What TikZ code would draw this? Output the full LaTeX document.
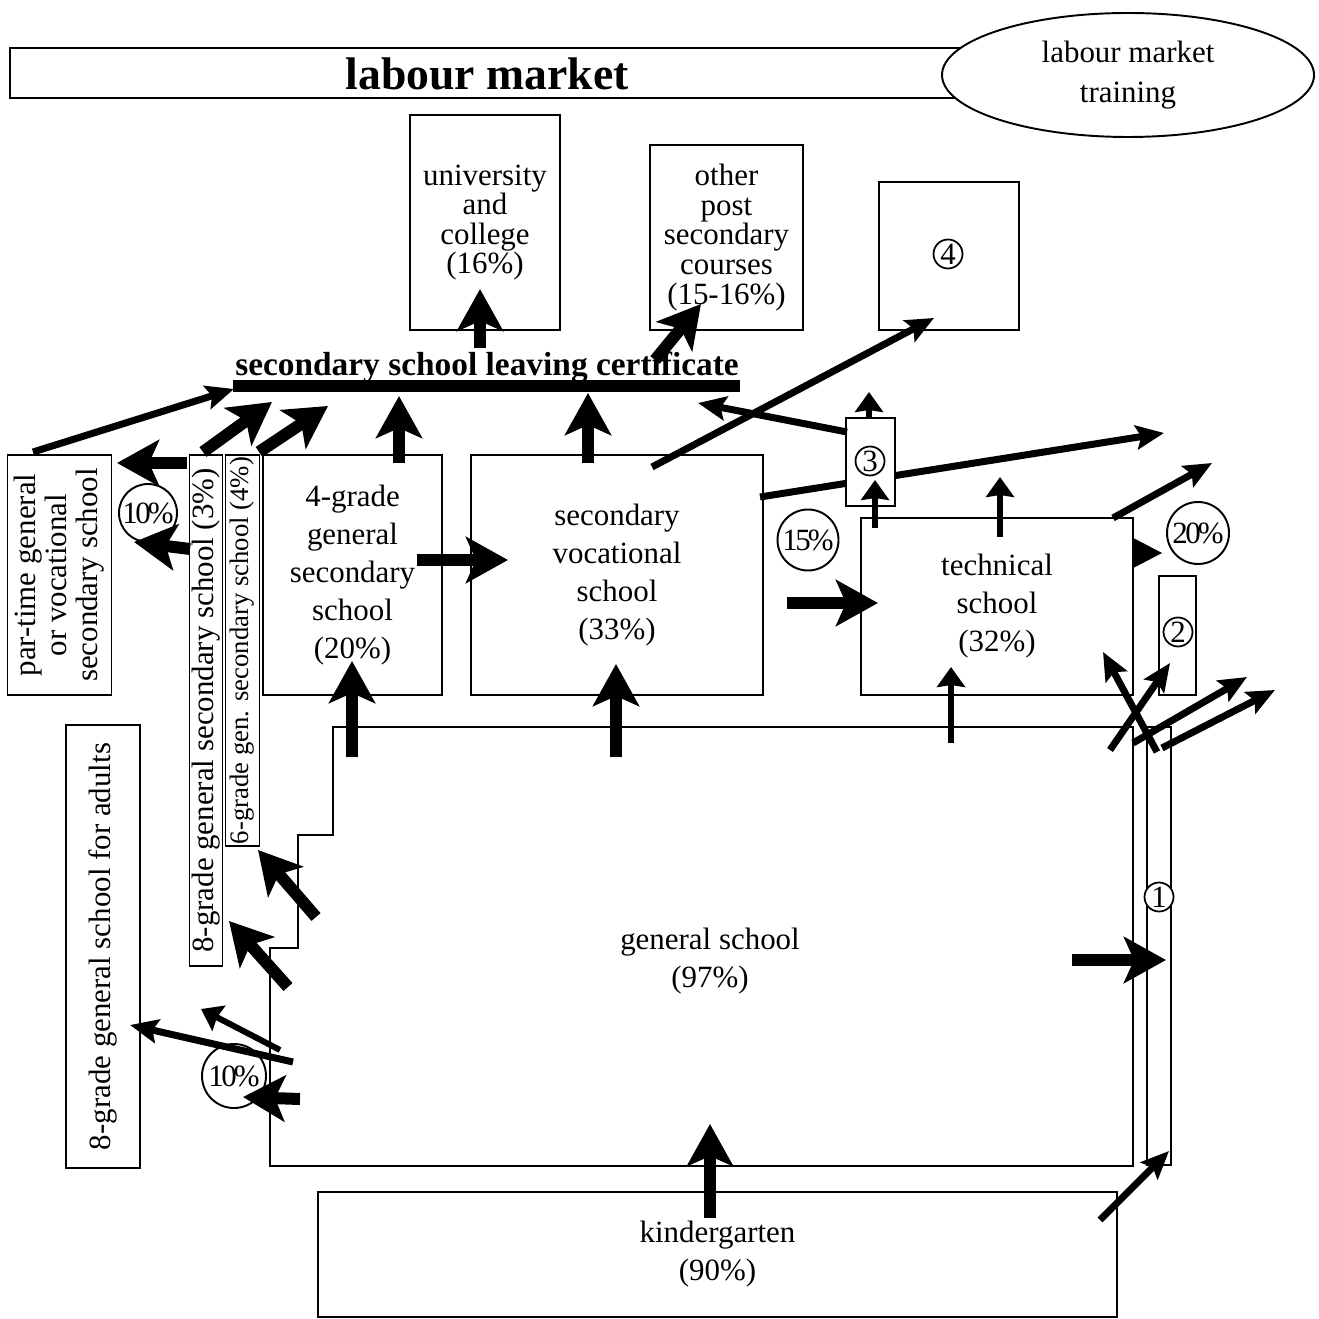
\documentclass[tikz,border=0pt]{standalone}
\usepackage{fontspec}
\setmainfont{Liberation Serif}
\usetikzlibrary{arrows.meta, shapes.geometric}

\tikzset{
  txt/.style={font=\fontsize{8.8}{10.8}\selectfont, align=center, inner sep=0pt},
  box/.style={txt, draw, line width=0.55pt, fill=white},
  ring/.style={txt, circle, draw, line width=0.55pt, fill=white, minimum size=#1},
  num/.style={txt, circle, draw, line width=0.5pt, minimum size=2.9mm},
  bigarr/.style={line width=1.2mm, -{Stealth[length=4.2mm, width=4.6mm, inset=1mm]}},
  midarr/.style={line width=0.7mm, -{Stealth[length=2.8mm, width=2.4mm, inset=0.5mm]}},
  thinarr/.style={line width=0.6mm, -{Stealth[length=2mm, width=2.8mm, inset=0.2mm]}}
}

\begin{document}
\begin{tikzpicture}[x=0.1mm, y=-0.1mm]
\fill[white] (0,0) rectangle (1319,1319);

% arrow ends
\foreach \n/\x/\y in {
  back0/187/463, back1/117/463, drop0/190/549, drop1/134/542,
  s8u0/203/452, s8u1/272/402, s6u0/259/452, s6u1/328/406,
  g4u0/399/463, g4u1/399/396, uni0/480/348, uni1/480/289,
  post0/655/360, post1/701/304, vocu0/588/463, vocu1/588/393,
  g4r0/417/560, g4r1/508/560, techl0/787/603, techl1/878/603,
  gsg40/352/757, gsg41/352/661, gsvoc0/616/757, gsvoc1/616/664,
  gs60/316/917, gs61/258/850, gs80/288/987, gs81/229/921,
  drop20/300/1099, drop21/243/1097, one0/1072/960, one1/1166/960,
  kg0/710/1218, kg1/710/1124,
  pt0/33/452, pt1/234/389, four0/652/467, four1/934/318,
  three0/847/432, three1/698/403, right0/760/497, right1/1164/433,
  techr0/1113/518, techr1/1212/463, xa0/1110/750, xa1/1170/663,
  xb0/1157/752, xb1/1103/652, xc0/1133/743, xc1/1247/677,
  xd0/1162/748, xd1/1275/690, kgone0/1100/1220, kgone1/1169/1151,
  adu0/293/1062, adu1/130/1025, adub0/280/1050, adub1/201/1009,
  threeu0/869/418, threeu1/869/392, techu0/875/528, techu1/875/480,
  techc0/1000/537, techc1/1000/477, gstech0/951/743, gstech1/951/667,
  tri0/1133/553, tri1/1162/553}
  \coordinate (\n) at (\x,\y);

% top row
\node[box, minimum width=99mm, minimum height=5mm] (lmbox) at (505,73) {};
\node[txt, font=\bfseries\fontsize{13}{15}\selectfont] (lm) at (487,74) {labour market};
\node[box, ellipse, minimum width=37.2mm, minimum height=12.4mm, font=\fontsize{8.8}{11.4}\selectfont] (lmt) at (1128,75) {labour market\\training};

\node[box, minimum width=15mm, minimum height=21.5mm, font=\fontsize{8.8}{8.3}\selectfont] (uni) at (485,222.5) {university\\and\\college\\(16\%)};
\node[box, minimum width=15.3mm, minimum height=18.5mm, font=\fontsize{8.8}{8.5}\selectfont] (post) at (726.5,237.5) {other\\post\\secondary\\courses\\(15-16\%)};
\node[box, minimum width=14mm, minimum height=14.8mm] (b4) at (949,256) {};
\node[num] (n4) at (948,254) {4};

% leaving certificate
\node[txt, font=\bfseries\fontsize{9.5}{11}\selectfont] (cert) at (487,367) {secondary school leaving certificate};
\node[fill, inner sep=0pt, minimum width=50.7mm, minimum height=1.2mm] (bar) at (486.5,386) {};

% secondary level
\node[box, rotate=90, minimum width=24mm, minimum height=10.4mm, font=\fontsize{8.8}{8.8}\selectfont] (pt) at (59.5,575) {par-time general\\or vocational\\secondary school};
\node[box, rotate=90, minimum width=51.1mm, minimum height=3.3mm] (g8) at (206,710.5) {8-grade general secondary school (3\%)};
\node[box, rotate=90, minimum width=39.1mm, minimum height=3.4mm, font=\fontsize{7.6}{9}\selectfont] (g6) at (242.5,650.5) {6-grade gen. secondary school (4\%)};
\node[box, minimum width=17.9mm, minimum height=24mm] (g4) at (352.5,575) {4-grade\\general\\secondary\\school\\(20\%)};
\node[box, minimum width=29.2mm, minimum height=24mm] (voc) at (617,575) {secondary\\vocational\\school\\(33\%)};
\node[box, minimum width=27.2mm, minimum height=17.7mm] (tech) at (997,606.5) {technical\\school\\(32\%)};

\draw[midarr] (right0) -- (right1);
\node[box, minimum width=4.9mm, minimum height=8.8mm] (b3) at (870.5,462) {};
\node[num] (n3) at (870,461) {3};
\node[box, minimum width=3.7mm, minimum height=11.9mm] (b2) at (1177.5,635.5) {};
\node[num] (n2) at (1178,632) {2};

% primary level
\draw[line width=0.55pt] (333,727) -- (1133,727) -- (1133,1166) -- (270,1166) -- (270,948) -- (298,948) -- (298,835) -- (333,835) -- cycle;
\node[txt] (gs) at (710,961) {general school\\(97\%)};
\node[box, rotate=90, minimum width=44.3mm, minimum height=7.4mm] (adults) at (103,946.5) {8-grade general school for adults};
\node[box, minimum width=2.4mm, minimum height=43.8mm] (b1) at (1159,946) {};
\node[num, fill=white] (n1) at (1159,897) {1};
\node[box, minimum width=79.9mm, minimum height=12.5mm] (kg) at (717.5,1254.5) {kindergarten\\(90\%)};

% shares
\node[ring=5.8mm] (r10a) at (148,513) {1\kern-.08em0\kern-.1em\%};
\node[ring=6.1mm] (r15) at (808,540) {1\kern-.08em5\kern-.1em\%};
\node[ring=6.2mm] (r20) at (1198,533) {2\kern-.08em0\kern-.1em\%};
\node[ring=6.4mm] (r10b) at (234,1076) {1\kern-.08em0\kern-.1em\%};

% flows
\foreach \s in {back, drop, s8u, s6u, g4u, uni, post, vocu, g4r, techl, gsg4, gsvoc, gs6, gs8, drop2, one, kg}
  \draw[bigarr] (\s0) -- (\s1);
\foreach \s in {pt, four, three, techr, xa, xb, xc, xd, kgone, adu}
  \draw[midarr] (\s0) -- (\s1);
\foreach \s in {threeu, techu, techc, gstech, adub}
  \draw[thinarr] (\s0) -- (\s1);
\draw[line width=0.1mm, -{Triangle[length=2.9mm, width=3mm]}] (tri0) -- (tri1);

\end{tikzpicture}
\end{document}
